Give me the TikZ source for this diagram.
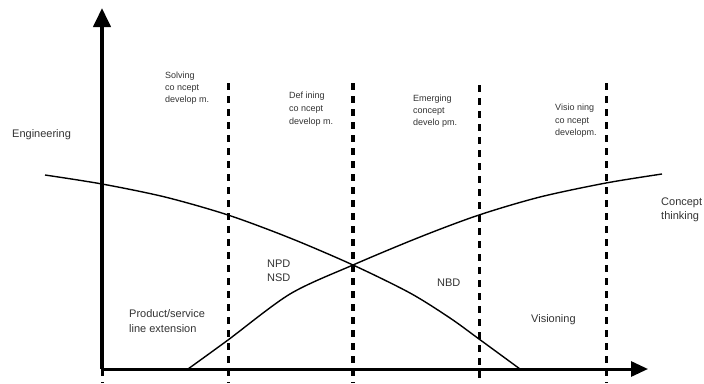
\documentclass[tikz,border=0pt]{standalone}
\usepackage{fontspec}
\setmainfont{Liberation Sans}
\usetikzlibrary{arrows.meta}
\begin{document}
\begin{tikzpicture}[x=1pt,y=-1pt,
  axisline/.style={line width=4pt,draw=black},
  divline/.style={line width=3pt,draw=black,dash pattern=on 7pt off 6pt},
  curveline/.style={line width=1.4pt,draw=black},
  smalllbl/.style={anchor=base west,inner sep=0pt,text=black!80,font=\fontsize{9}{12}\selectfont},
  biglbl/.style={anchor=base west,inner sep=0pt,text=black!80,font=\fontsize{11}{13}\selectfont}]
\fill[white] (0,0) rectangle (704,383);
\useasboundingbox (0,0) rectangle (704,383);
% axes
\coordinate (O) at (102,369);
\coordinate (Ytop) at (102,8);
\coordinate (Xend) at (648,369);
\coordinate (Ybot) at (102,383);
% dashed dividers
\coordinate (d1t) at (228,83);  \coordinate (d1b) at (228,383);
\coordinate (d2t) at (353,83);  \coordinate (d2b) at (353,383);
\coordinate (d3t) at (479,85);  \coordinate (d3b) at (479,383);
\coordinate (d4t) at (606,83);  \coordinate (d4b) at (606,383);
\draw[divline] (d1t) -- (d1b);
\draw[divline,line width=3.6pt] (d2t) -- (d2b);
\draw[divline] (d3t) -- (d3b);
\draw[divline] (d4t) -- (d4b);
\draw[divline] (O) -- (Ybot);
% curves
\draw[curveline] plot[smooth,tension=0.5] coordinates {(45,175) (102,184) (165,197) (228,215) (290,238) (353,265) (410,293) (450,318) (479,339) (520,369)};
\draw[curveline] plot[smooth,tension=0.5] coordinates {(188,369) (228,340) (290,294) (353,265) (420,237) (479,215) (540,197) (606,183) (662,174)};
% axes on top
\draw[axisline,-{Triangle[length=19pt,width=17pt]}] (O) -- (Ytop);
\draw[line width=3pt,-{Triangle[length=17pt,width=15pt]}] (O) -- (Xend);
% top labels
\node[smalllbl] (s1) at (165,78) {Solving};
\node[smalllbl] (s2) at (165,90) {co ncept};
\node[smalllbl] (s3) at (165,102) {develop m.};
\node[smalllbl] (f1) at (289,98) {Def ining};
\node[smalllbl] (f2) at (289,111) {co ncept};
\node[smalllbl] (f3) at (289,124) {develop m.};
\node[smalllbl] (e1) at (413,101) {Emerging};
\node[smalllbl] (e2) at (413,113) {concept};
\node[smalllbl] (e3) at (413,125) {develo pm.};
\node[smalllbl] (v1) at (555,110) {Visio ning};
\node[smalllbl] (v2) at (555,123) {co ncept};
\node[smalllbl] (v3) at (555,135) {developm.};
% other labels
\node[biglbl] (eng) at (12,137) {Engineering};
\node[biglbl] (ct1) at (661,205) {Concept};
\node[biglbl] (ct2) at (661,219) {thinking};
\node[biglbl] (npd) at (267,267) {NPD};
\node[biglbl] (nsd) at (267,281) {NSD};
\node[biglbl] (pse1) at (129,317) {Product/service};
\node[biglbl] (pse2) at (129,332) {line extension};
\node[biglbl] (nbd) at (437,286) {NBD};
\node[biglbl] (vis) at (531,322) {Visioning};
\end{tikzpicture}
\end{document}
